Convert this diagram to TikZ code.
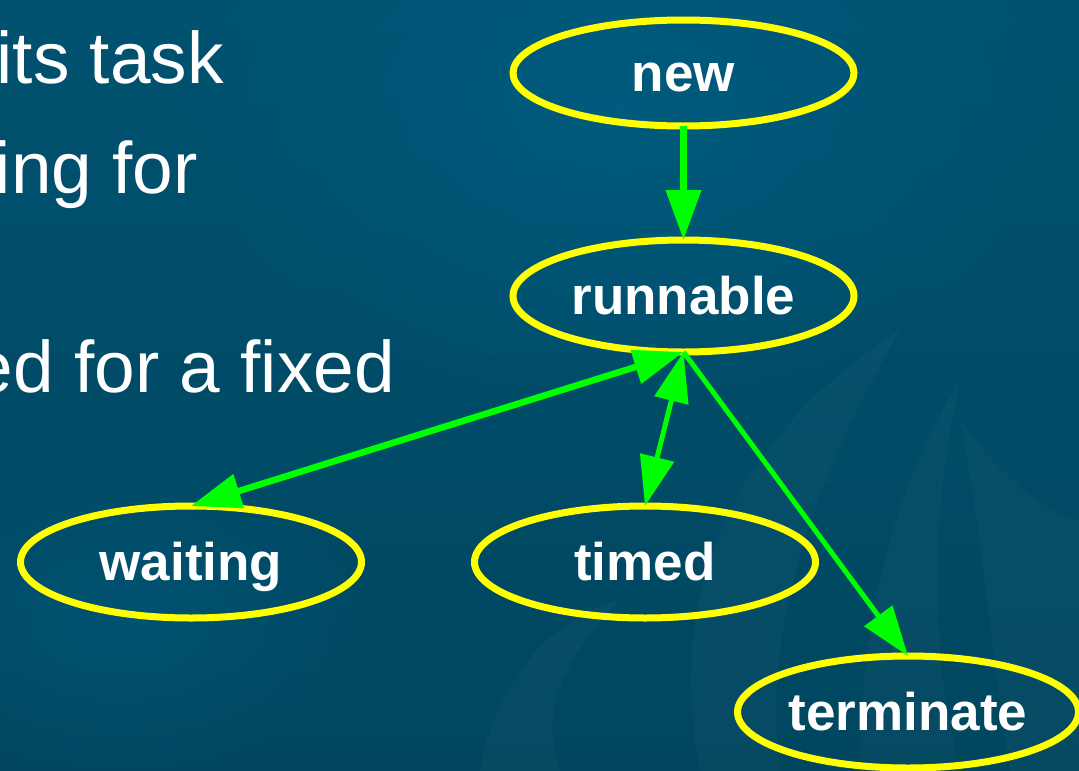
\documentclass[tikz,border=0pt]{standalone}
\usepackage{fontspec}
\setmainfont{Liberation Sans}
\usetikzlibrary{arrows.meta,shapes.geometric,fadings}

\definecolor{bgtop}{RGB}{0,82,112}
\definecolor{bgbot}{RGB}{0,70,95}
\definecolor{bglight}{RGB}{0,94,130}
\definecolor{statering}{RGB}{255,255,0}
\definecolor{flow}{RGB}{0,255,0}

% soft radial glow: opaque centre, transparent rim
\tikzfading[name=glow, inner color=transparent!0, outer color=transparent!100]

\tikzset{
  state/.style={ellipse, draw=statering, line width=7pt, inner sep=0pt,
    outer sep=0pt, minimum width=341pt, minimum height=112pt,
    text=white, font=\fontsize{53}{60}\selectfont\bfseries,
    text height=40pt, text depth=4pt},
  edge/.style={draw=flow, line width=6pt,
    arrows={-Triangle[width=34pt,length=50pt]}},
  twoway/.style={edge, arrows={Triangle[width=34pt,length=50pt]-Triangle[width=34pt,length=50pt]}},
  bodytext/.style={text=white, font=\fontsize{73}{80}\selectfont, anchor=base east, inner sep=0pt},
  leaf/.style={fill=white, fill opacity=0.022, draw=none}
}

\begin{document}
\begin{tikzpicture}[x=1pt, y=-1pt]
  \useasboundingbox (0,0) rectangle (1079,771);
  \clip (0,0) rectangle (1079,771);

  % background: vertical gradient with a soft glow behind the upper states
  \shade[top color=bgtop, bottom color=bgbot] (0,0) rectangle (1079,771);
  \fill[bglight, opacity=0.8, path fading=glow] (620,110) ellipse (460pt and 300pt);
  \fill[bglight, opacity=0.5, path fading=glow] (120,620) ellipse (260pt and 160pt);

  % faint leaf shapes
  \path[leaf] (700,771) .. controls (660,560) and (760,420) .. (900,330)
              .. controls (820,470) and (760,620) .. (780,771) -- cycle;
  \path[leaf] (860,771) .. controls (860,600) and (900,480) .. (960,380)
              .. controls (930,520) and (930,650) .. (960,771) -- cycle;
  \path[leaf] (960,420) .. controls (1000,480) and (1060,520) .. (1079,520)
              -- (1079,771) -- (1010,771) .. controls (990,640) and (980,520) .. (960,420) -- cycle;
  \path[leaf] (480,771) .. controls (490,700) and (540,620) .. (620,600)
              .. controls (560,660) and (540,720) .. (560,771) -- cycle;

  % left column text
  \node[bodytext] (l1) at (224,83) {its task};
  \node[bodytext] (l2) at (198,193) {ing for};
  \node[bodytext] (l3) at (395,392) {ed for a fixed};

  % states
  \node[state, minimum height=106pt] (new) at (683.5,73) {new};
  \node[state] (runnable) at (683.5,296) {runnable};
  \node[state] (waiting) at (191,562) {waiting};
  \node[state] (timed) at (645,562) {timed};
  \node[state] (terminate) at (908,712) {terminate};

  % transitions
  \draw[edge, line width=7pt] (new.south) -- (runnable.north);
  \draw[twoway, line width=6.5pt] (runnable.south) -- (waiting.north);
  \draw[twoway, line width=5pt] (runnable.south) -- (timed.north);
  \draw[edge, line width=5pt] (runnable.south) -- (terminate.north);
\end{tikzpicture}
\end{document}
